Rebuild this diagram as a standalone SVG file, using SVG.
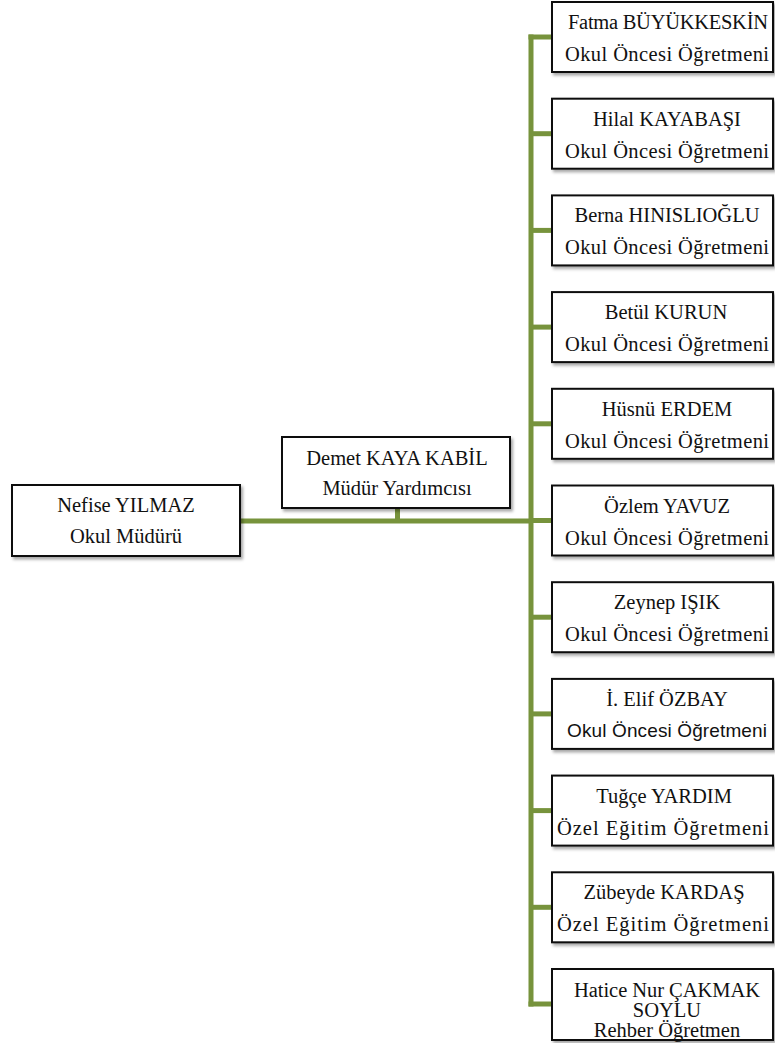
<svg xmlns="http://www.w3.org/2000/svg" width="775" height="1043" viewBox="0 0 775 1043">
<defs>
<filter id="sh" x="-10%" y="-10%" width="125%" height="140%">
<feDropShadow dx="2" dy="2.5" stdDeviation="1.5" flood-color="#000" flood-opacity="0.35"/>
</filter>
</defs>
<style>
.box{fill:#fff;stroke:#111;stroke-width:2;filter:url(#sh)}
.t{font-family:"Liberation Serif","Times New Roman",serif;font-size:20.5px;fill:#111;text-anchor:middle}
.s{font-family:"Liberation Sans",Arial,sans-serif;font-size:19px;fill:#111;text-anchor:middle}
.c{fill:none;stroke:#77933C;stroke-width:5}
</style>
<rect width="775" height="1043" fill="#fff"/>
<g id="connectors">
<path class="c" d="M240 521 H531" stroke-width="8"/>
<path class="c" d="M397.5 508 V521"/>
<path class="c" d="M531 34.5 V1006.5"/>
<path class="c" d="M528.5 37 H552"/>
<path class="c" d="M531 133.7 H552"/>
<path class="c" d="M531 230.4 H552"/>
<path class="c" d="M531 327.1 H552"/>
<path class="c" d="M531 423.8 H552"/>
<path class="c" d="M531 520.5 H552"/>
<path class="c" d="M531 617.2 H552"/>
<path class="c" d="M531 713.9 H552"/>
<path class="c" d="M531 810.6 H552"/>
<path class="c" d="M531 907.3 H552"/>
<path class="c" d="M528.5 1004 H552"/>
</g>
<g id="n-mudur">
<rect class="box" x="12" y="485" width="228" height="71"/>
<text class="t" x="126" y="512">Nefise YILMAZ</text>
<text class="t" x="126" y="543">Okul Müdürü</text>
</g>
<g id="n-yardimci">
<rect class="box" x="282" y="437" width="228" height="71"/>
<text class="t" x="397" y="465">Demet KAYA KABİL</text>
<text class="t" x="397" y="495">Müdür Yardımcısı</text>
</g>
<g id="n1">
<rect class="box" x="552" y="2" width="221" height="70"/>
<text class="t" x="668" y="29" textLength="200">Fatma BÜYÜKKESKİN</text>
<text class="t" x="667" y="61" textLength="204">Okul Öncesi Öğretmeni</text>
</g>
<g id="n2">
<rect class="box" x="552" y="98.7" width="221" height="70"/>
<text class="t" x="667" y="125.7">Hilal KAYABAŞI</text>
<text class="t" x="667" y="157.7" textLength="204">Okul Öncesi Öğretmeni</text>
</g>
<g id="n3">
<rect class="box" x="552" y="195.4" width="221" height="70"/>
<text class="t" x="667" y="222.4">Berna HINISLIOĞLU</text>
<text class="t" x="667" y="254.4" textLength="204">Okul Öncesi Öğretmeni</text>
</g>
<g id="n4">
<rect class="box" x="552" y="292.1" width="221" height="70"/>
<text class="t" x="666" y="319.1">Betül KURUN</text>
<text class="t" x="667" y="351.1" textLength="204">Okul Öncesi Öğretmeni</text>
</g>
<g id="n5">
<rect class="box" x="552" y="388.8" width="221" height="70"/>
<text class="t" x="667" y="415.8">Hüsnü ERDEM</text>
<text class="t" x="667" y="447.8" textLength="204">Okul Öncesi Öğretmeni</text>
</g>
<g id="n6">
<rect class="box" x="552" y="485.5" width="221" height="70"/>
<text class="t" x="667" y="512.5">Özlem YAVUZ</text>
<text class="t" x="667" y="544.5" textLength="204">Okul Öncesi Öğretmeni</text>
</g>
<g id="n7">
<rect class="box" x="552" y="582.2" width="221" height="70"/>
<text class="t" x="667" y="609.2">Zeynep IŞIK</text>
<text class="t" x="667" y="641.2" textLength="204">Okul Öncesi Öğretmeni</text>
</g>
<g id="n8">
<rect class="box" x="552" y="678.9" width="221" height="70"/>
<text class="t" x="667" y="706.4">İ. Elif ÖZBAY</text>
<text class="s" x="667" y="737" textLength="200">Okul Öncesi Öğretmeni</text>
</g>
<g id="n9">
<rect class="box" x="552" y="775.6" width="221" height="70"/>
<text class="t" x="664" y="802.6">Tuğçe YARDIM</text>
<text class="t" x="663" y="834.6" textLength="212">Özel Eğitim Öğretmeni</text>
</g>
<g id="n10">
<rect class="box" x="552" y="872.3" width="221" height="70"/>
<text class="t" x="664" y="899.3">Zübeyde KARDAŞ</text>
<text class="t" x="663" y="931.3" textLength="212">Özel Eğitim Öğretmeni</text>
</g>
<g id="n11">
<rect class="box" x="552" y="969" width="221" height="71"/>
<text class="t" x="667" y="996.5" textLength="186">Hatice Nur ÇAKMAK</text>
<text class="t" x="667" y="1016.5">SOYLU</text>
<text class="t" x="667" y="1036.5">Rehber Öğretmen</text>
</g>
</svg>
